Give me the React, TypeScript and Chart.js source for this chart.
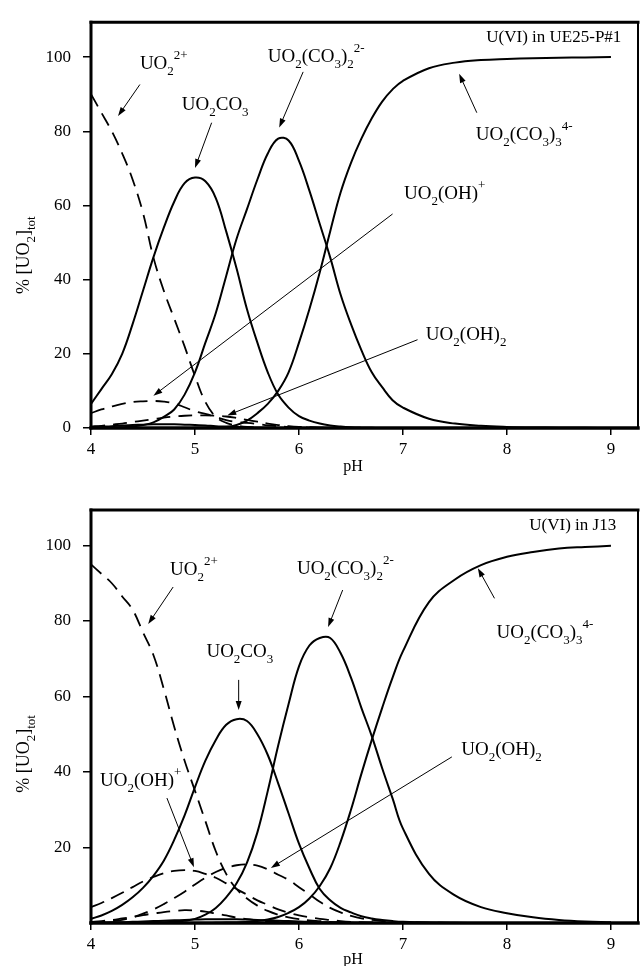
import React, { useEffect, useRef } from 'react';
import { Chart, registerables } from 'chart.js';

Chart.register(...registerables);

const FONT = '"Liberation Serif", "Times New Roman", serif';

// ---- data ----
const PH = [4.0, 4.1, 4.2, 4.3, 4.4, 4.5, 4.6, 4.7, 4.8, 4.9,
  5.0, 5.1, 5.2, 5.3, 5.4, 5.5, 5.6, 5.7, 5.8, 5.9,
  6.0, 6.1, 6.2, 6.3, 6.4, 6.5, 6.6, 6.7, 6.8, 6.9,
  7.0, 7.25, 7.5, 7.75, 8.0, 8.25, 8.5, 8.75, 9.0];

const X_TICKS = [4, 5, 6, 7, 8, 9];
const Y_TICKS_TOP = [0, 20, 40, 60, 80, 100];
const Y_TICKS_BOTTOM = [20, 40, 60, 80, 100];

// Panel 1: U(VI) in UE25-P#1
const P1_UO2 = [90, 85, 80, 74, 67, 58, 46, 37, 29.5, 22,
  14, 7, 3, 1.4, 0.7, 0.3, 0.1, 0, 0, 0,
  0, 0, 0, 0, 0, 0, 0, 0, 0, 0,
  0, 0, 0, 0, 0, 0, 0, 0, 0];
const P1_CO3 = [6.5, 10.5, 14.5, 20, 28, 37, 46, 54, 61, 66,
  67.5, 66.5, 62, 53, 43, 32, 23, 15, 9, 5.5,
  3.2, 2, 1.2, 0.7, 0.4, 0.2, 0.1, 0.05, 0, 0,
  0, 0, 0, 0, 0, 0, 0, 0, 0];
const P1_CO32 = [0, 0.05, 0.1, 0.2, 0.4, 0.8, 1.5, 3, 5, 9,
  15, 23, 31, 41, 51, 59, 67, 74, 78, 77.5,
  72, 64, 55, 46, 36, 28, 21, 15, 11, 7.5,
  5.5, 2.5, 1.2, 0.6, 0.3, 0.15, 0.1, 0.05, 0];
const P1_CO33 = [0, 0, 0, 0, 0, 0, 0, 0, 0, 0,
  0.05, 0.1, 0.15, 0.25, 0.8, 2, 4, 6.5, 10, 15,
  23, 32, 42, 53, 63.5, 71.5, 78, 83.5, 88, 91.3,
  93.6, 97, 98.5, 99.2, 99.5, 99.7, 99.8, 99.9, 100];
const P1_OH = [4, 5, 5.8, 6.5, 7, 7.2, 7.3, 7.1, 6.6, 5.6,
  4.5, 3.8, 3, 2.1, 1.6, 1.4, 1.1, 0.7, 0.5, 0.3,
  0.2, 0.1, 0.05, 0, 0, 0, 0, 0, 0, 0,
  0, 0, 0, 0, 0, 0, 0, 0, 0];
const P1_OH2 = [0.4, 0.6, 0.9, 1.2, 1.6, 2, 2.4, 2.8, 3.1, 3.3,
  3.4, 3.4, 3.3, 3.1, 2.7, 2.2, 1.7, 1.2, 0.8, 0.5,
  0.3, 0.2, 0.1, 0.05, 0, 0, 0, 0, 0, 0,
  0, 0, 0, 0, 0, 0, 0, 0, 0];
const P1_MINOR = [0.3, 0.4, 0.5, 0.7, 0.8, 0.9, 1.0, 1.0, 1.0, 0.9,
  0.8, 0.7, 0.5, 0.4, 0.3, 0.2, 0.1, 0.05, 0, 0,
  0, 0, 0, 0, 0, 0, 0, 0, 0, 0,
  0, 0, 0, 0, 0, 0, 0, 0, 0];

// Panel 2: U(VI) in J13
const P2_UO2 = [95, 92.5, 90, 86.5, 83, 77, 71, 62, 52, 43,
  35, 27, 19, 13, 9, 6.5, 4.6, 3.2, 2.2, 1.5,
  1, 0.7, 0.5, 0.3, 0.2, 0.1, 0.05, 0, 0, 0,
  0, 0, 0, 0, 0, 0, 0, 0, 0];
const P2_CO3 = [1.1, 2, 3.2, 4.8, 6.8, 9.3, 12.5, 16.5, 22, 28.5,
  36, 43, 48.5, 52.5, 54, 53.5, 50, 44.5, 37, 29,
  21, 14.5, 9, 6, 4, 2.8, 1.8, 1.2, 0.8, 0.5,
  0.3, 0.1, 0.05, 0, 0, 0, 0, 0, 0];
const P2_CO32 = [0, 0, 0, 0, 0, 0.05, 0.1, 0.15, 0.3, 0.6,
  1.1, 2.2, 4, 6.8, 10.5, 16, 24, 35, 47, 58,
  68, 73.5, 75.5, 75.5, 71.5, 65, 57, 49.5, 41, 33,
  25, 13, 7.3, 4.2, 2.6, 1.5, 0.8, 0.4, 0.2];
const P2_CO33 = [0, 0, 0, 0, 0, 0, 0, 0, 0, 0,
  0, 0, 0.05, 0.1, 0.15, 0.3, 0.5, 0.9, 1.6, 2.7,
  4.2, 6.5, 9.8, 14.5, 21.5, 30, 39.5, 48.5, 57, 65,
  72, 85, 91, 94.8, 97, 98.3, 99.2, 99.6, 99.9];
const P2_OH = [4.2, 5.3, 6.6, 8, 9.5, 11, 12.2, 13.2, 13.8, 14,
  13.8, 13, 12, 10.5, 9, 7.5, 6, 4.8, 3.6, 2.7,
  2, 1.5, 1.1, 0.8, 0.5, 0.3, 0.2, 0.15, 0.1, 0.05,
  0, 0, 0, 0, 0, 0, 0, 0, 0];
const P2_OH2 = [0.2, 0.3, 0.5, 0.8, 1.5, 2.5, 3.6, 5, 6.6, 8.3,
  10.2, 12, 13.5, 14.6, 15.3, 15.5, 15.2, 14.2, 12.8, 11.4,
  9.5, 7.6, 5.6, 4, 2.8, 1.9, 1.2, 0.8, 0.5, 0.3,
  0.2, 0.1, 0.05, 0, 0, 0, 0, 0, 0];
const P2_MINOR_D = [0.3, 0.5, 0.8, 1.2, 1.6, 2.1, 2.5, 2.9, 3.2, 3.4,
  3.3, 3, 2.5, 2, 1.4, 1, 0.7, 0.4, 0.3, 0.2,
  0.1, 0.05, 0, 0, 0, 0, 0, 0, 0, 0,
  0, 0, 0, 0, 0, 0, 0, 0, 0];
const P2_MINOR_S = [0.1, 0.1, 0.2, 0.2, 0.3, 0.4, 0.5, 0.6, 0.7, 0.8,
  0.9, 1, 1, 1, 1, 0.9, 0.8, 0.7, 0.6, 0.5,
  0.4, 0.3, 0.2, 0.15, 0.1, 0.05, 0, 0, 0, 0,
  0, 0, 0, 0, 0, 0, 0, 0, 0];

// ---- labels (rich text segments: b = subscript, p = superscript) ----
type Seg = { t: string; k?: 'b' | 'p' };
const L_UO2: Seg[] = [{ t: 'UO' }, { t: '2', k: 'b' }, { t: '2+', k: 'p' }];
const L_CO3: Seg[] = [{ t: 'UO' }, { t: '2', k: 'b' }, { t: 'CO' }, { t: '3', k: 'b' }];
const L_CO32: Seg[] = [{ t: 'UO' }, { t: '2', k: 'b' }, { t: '(CO' }, { t: '3', k: 'b' }, { t: ')' }, { t: '2', k: 'b' }, { t: '2-', k: 'p' }];
const L_CO33: Seg[] = [{ t: 'UO' }, { t: '2', k: 'b' }, { t: '(CO' }, { t: '3', k: 'b' }, { t: ')' }, { t: '3', k: 'b' }, { t: '4-', k: 'p' }];
const L_OH: Seg[] = [{ t: 'UO' }, { t: '2', k: 'b' }, { t: '(OH)' }, { t: '+', k: 'p' }];
const L_OH2: Seg[] = [{ t: 'UO' }, { t: '2', k: 'b' }, { t: '(OH)' }, { t: '2', k: 'b' }];
const L_YTITLE: Seg[] = [{ t: '% [UO' }, { t: '2', k: 'b' }, { t: ']' }, { t: 'tot', k: 'b' }];

type LabelCfg = { segs: Seg[]; x: number; y: number };
type ArrowCfg = [number, number, number, number];

const P1_LABELS: LabelCfg[] = [
  { segs: L_UO2, x: 4.47, y: 98.1 },
  { segs: L_CO3, x: 4.873, y: 87.2 },
  { segs: L_CO32, x: 5.70, y: 100.1 },
  { segs: L_CO33, x: 7.70, y: 79 },
  { segs: L_OH, x: 7.01, y: 63 },
  { segs: L_OH2, x: 7.22, y: 25.1 },
];
const P1_ARROWS: ArrowCfg[] = [
  [4.47, 92.6, 4.26, 84.1],
  [5.16, 82.3, 5.0, 70.1],
  [6.04, 96, 5.81, 81],
  [7.71, 85, 7.54, 95.5],
  [6.9, 57.7, 4.6, 8.7],
  [7.14, 23.8, 5.31, 3.4],
];
const P2_LABELS: LabelCfg[] = [
  { segs: L_UO2, x: 4.76, y: 93.5 },
  { segs: L_CO3, x: 5.11, y: 71.8 },
  { segs: L_CO32, x: 5.98, y: 93.8 },
  { segs: L_CO33, x: 7.90, y: 76.8 },
  { segs: L_OH, x: 4.086, y: 37.6 },
  { segs: L_OH2, x: 7.56, y: 45.8 },
];
const P2_ARROWS: ArrowCfg[] = [
  [4.79, 89, 4.55, 79.2],
  [5.42, 64.4, 5.42, 56.4],
  [6.42, 88.2, 6.28, 78.4],
  [7.88, 86, 7.72, 94],
  [4.73, 33.1, 4.99, 14.8],
  [7.47, 44, 5.73, 14.6],
];

// ---- drawing helpers ----
function segFont(s: Seg, size: number) {
  return `${s.k ? Math.round(size * 0.7) : size}px ${FONT}`;
}
function richWidth(ctx: CanvasRenderingContext2D, segs: Seg[], size: number) {
  let w = 0;
  for (const s of segs) { ctx.font = segFont(s, size); w += ctx.measureText(s.t).width; }
  return w;
}
function drawRich(ctx: CanvasRenderingContext2D, segs: Seg[], x: number, y: number, size: number) {
  let cx = x;
  ctx.textBaseline = 'middle';
  ctx.textAlign = 'left';
  for (const s of segs) {
    ctx.font = segFont(s, size);
    const dy = s.k === 'b' ? size * 0.4 : s.k === 'p' ? -size * 0.45 : 0;
    ctx.fillText(s.t, cx, y + dy);
    cx += ctx.measureText(s.t).width;
  }
}
function drawArrow(ctx: CanvasRenderingContext2D, x1: number, y1: number, x2: number, y2: number) {
  const ang = Math.atan2(y2 - y1, x2 - x1);
  const hl = 9, hw = 3;
  ctx.beginPath();
  ctx.moveTo(x1, y1);
  ctx.lineTo(x2 - Math.cos(ang) * hl * 0.8, y2 - Math.sin(ang) * hl * 0.8);
  ctx.stroke();
  ctx.beginPath();
  ctx.moveTo(x2, y2);
  ctx.lineTo(x2 - Math.cos(ang) * hl - Math.sin(ang) * hw, y2 - Math.sin(ang) * hl + Math.cos(ang) * hw);
  ctx.lineTo(x2 - Math.cos(ang) * hl + Math.sin(ang) * hw, y2 - Math.sin(ang) * hl - Math.cos(ang) * hw);
  ctx.closePath();
  ctx.fill();
}

const overlay = {
  id: 'overlay',
  afterDatasetsDraw(chart: any, _args: any, opts: any) {
    const { ctx, chartArea: a } = chart;
    const xs = chart.scales.x, ys = chart.scales.y;
    ctx.save();
    ctx.strokeStyle = '#000';
    ctx.fillStyle = '#000';
    // frame
    ctx.lineCap = 'square';
    ctx.lineWidth = 3;
    ctx.beginPath(); ctx.moveTo(a.left, a.top); ctx.lineTo(a.right, a.top); ctx.stroke();
    ctx.beginPath(); ctx.moveTo(a.left, a.top); ctx.lineTo(a.left, a.bottom); ctx.stroke();
    ctx.lineWidth = 3.5;
    ctx.beginPath(); ctx.moveTo(a.left, a.bottom); ctx.lineTo(a.right, a.bottom); ctx.stroke();
    ctx.lineWidth = 2;
    ctx.beginPath(); ctx.moveTo(a.right, a.top); ctx.lineTo(a.right, a.bottom); ctx.stroke();
    ctx.lineCap = 'butt';
    // arrows
    ctx.lineWidth = 1;
    for (const [x1, y1, x2, y2] of opts.arrows as ArrowCfg[]) {
      drawArrow(ctx, xs.getPixelForValue(x1), ys.getPixelForValue(y1), xs.getPixelForValue(x2), ys.getPixelForValue(y2));
    }
    // species labels
    for (const l of opts.labels as LabelCfg[]) {
      drawRich(ctx, l.segs, xs.getPixelForValue(l.x), ys.getPixelForValue(l.y), 19);
    }
    // panel title (right aligned)
    ctx.font = `17px ${FONT}`;
    ctx.textAlign = 'right';
    ctx.textBaseline = 'middle';
    ctx.fillText(opts.title, xs.getPixelForValue(opts.titleX), ys.getPixelForValue(opts.titleY));
    // x axis title
    ctx.font = `16px ${FONT}`;
    ctx.textAlign = 'center';
    ctx.fillText('pH', xs.getPixelForValue(6.52), a.bottom + opts.phDy);
    // y axis title
    const yc = ys.getPixelForValue(opts.yTitleV);
    ctx.translate(24, yc);
    ctx.rotate(-Math.PI / 2);
    const w = richWidth(ctx, L_YTITLE, 18);
    drawRich(ctx, L_YTITLE, -w / 2, 0, 18);
    ctx.restore();
  },
};

function ds(values: number[], dashed: boolean) {
  return {
    data: PH.map((p, i) => ({ x: p, y: values[i] })),
    borderColor: '#000',
    borderWidth: dashed ? 1.8 : 2,
    borderDash: dashed ? [14, 8] : [],
    pointRadius: 0,
    fill: false,
    tension: 0.4,
  };
}

function makeConfig(datasets: any[], yTicks: number[], padTop: number, xH: number, ov: any) {
  return {
    type: 'line',
    data: { datasets },
    plugins: [overlay],
    options: {
      animation: false,
      responsive: false,
      layout: { padding: { top: padTop, right: 4, left: 0, bottom: 0 } },
      plugins: { legend: { display: false }, tooltip: { enabled: false }, overlay: ov },
      scales: {
        x: {
          type: 'linear', min: 4, max: 9.26,
          afterBuildTicks: (s: any) => { s.ticks = X_TICKS.map((v) => ({ value: v })); },
          afterFit: (s: any) => { s.height = xH; },
          grid: { drawOnChartArea: false, drawTicks: true, tickLength: 7, color: '#000', lineWidth: 1.5 },
          border: { display: false },
          ticks: { color: '#000', font: { family: FONT, size: 17 }, padding: 4, maxRotation: 0 },
        },
        y: {
          type: 'linear', min: 0, max: 109.4,
          afterBuildTicks: (s: any) => { s.ticks = yTicks.map((v) => ({ value: v })); },
          afterFit: (s: any) => { s.width = 91; },
          grid: { drawOnChartArea: false, drawTicks: true, tickLength: 8, color: '#000', lineWidth: 1.5 },
          border: { display: false },
          ticks: { color: '#000', font: { family: FONT, size: 17 }, padding: 12 },
        },
      },
    },
  };
}

function Panel({ height, config }: { height: number; config: any }) {
  const ref = useRef<HTMLCanvasElement>(null);
  useEffect(() => {
    if (!ref.current) return;
    const c = new Chart(ref.current, config);
    return () => c.destroy();
  }, []);
  return <canvas ref={ref} width={642} height={height} style={{ display: 'block', width: 642, height }} />;
}

export default function App() {
  useEffect(() => { document.body.style.margin = '0'; }, []);
  const cfg1 = makeConfig(
    [ds(P1_UO2, true), ds(P1_CO3, false), ds(P1_CO32, false), ds(P1_CO33, false), ds(P1_OH, true), ds(P1_OH2, true), ds(P1_MINOR, false)],
    Y_TICKS_TOP, 15, 47,
    { labels: P1_LABELS, arrows: P1_ARROWS, title: 'U(VI) in UE25-P#1', titleX: 9.1, titleY: 105.3, phDy: 39, yTitleV: 46.6 },
  );
  const cfg2 = makeConfig(
    [ds(P2_UO2, true), ds(P2_CO3, false), ds(P2_CO32, false), ds(P2_CO33, false), ds(P2_OH, true), ds(P2_OH2, true), ds(P2_MINOR_D, true), ds(P2_MINOR_S, false)],
    Y_TICKS_BOTTOM, 35, 43,
    { labels: P2_LABELS, arrows: P2_ARROWS, title: 'U(VI) in J13', titleX: 9.05, titleY: 105.2, phDy: 37, yTitleV: 44.8 },
  );
  return (
    <div style={{ width: 642, height: 966, background: '#fff' }}>
      <Panel height={475} config={cfg1} />
      <Panel height={491} config={cfg2} />
    </div>
  );
}
